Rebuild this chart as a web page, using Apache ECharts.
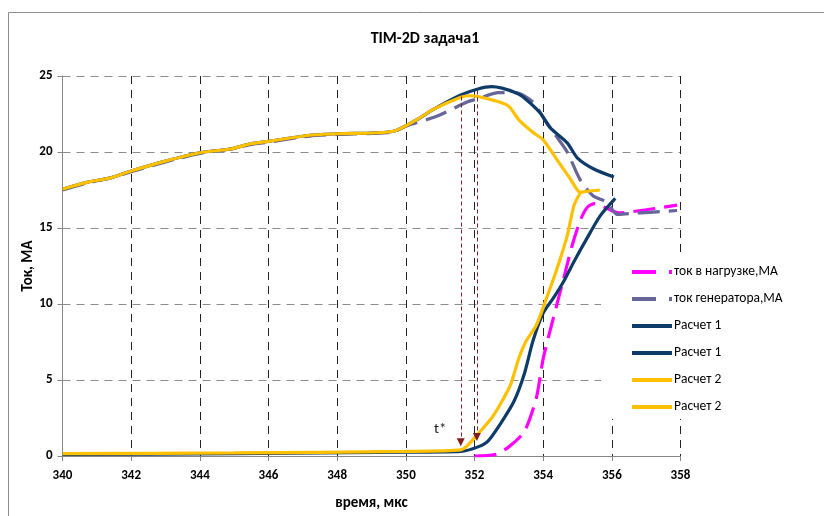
<!DOCTYPE html>
<html>
<head>
<meta charset="utf-8">
<script src="https://cdn.jsdelivr.net/npm/echarts@6/dist/echarts.min.js"></script>
<style>
  html, body { margin: 0; padding: 0; background: #fff; }
  #chart { width: 824px; height: 516px; }
</style>
</head>
<body>
<div id="chart"></div>
<script>
// Labels
const titleText = 'TIM-2D задача1';
const xAxisName = 'время, мкс';
const yAxisName = 'Ток, МА';
const annotText = 't*';
const seriesKeys = ['load', 'gen', 'r1a', 'r1b', 'r2a', 'r2b'];
const seriesLabels = ['ток в нагрузке,МА', 'ток генератора,МА', 'Расчет 1', 'Расчет 1', 'Расчет 2', 'Расчет 2'];

// Axis ranges
const xMin = 340, xMax = 358, xStep = 2;
const yMin = 0, yMax = 25, yStep = 5;

// Load current (MA)
const loadX = [352.0, 352.6, 353.0, 353.45, 353.8, 354.0, 354.3, 354.6, 354.85, 355.1, 355.3, 355.5, 355.85, 356.2, 357.0, 357.9];
const loadY = [0.0, 0.1, 0.6, 1.6, 3.8, 6.4, 9.1, 11.7, 13.9, 15.6, 16.4, 16.6, 16.3, 16.0, 16.2, 16.5];

// Generator current (MA)
const genX = [340, 340.7, 341.4, 342, 343, 344, 344.9, 345.5, 346, 347.2, 348, 349.6, 350.0, 350.9, 351.8, 352.1, 352.7, 353.2, 353.7, 354.0, 354.3, 354.7, 355.07, 355.46, 355.86, 356.15, 356.5, 357.2, 357.9];
const genY = [17.5, 17.95, 18.3, 18.7, 19.35, 19.9, 20.2, 20.5, 20.65, 21.05, 21.15, 21.3, 21.7, 22.35, 23.3, 23.5, 23.9, 23.9, 23.3, 22.3, 21.3, 20.0, 18.2, 17.1, 16.7, 15.9, 15.95, 16.05, 16.15];

// Calculation 1, upper branch
const r1aX = [340, 340.7, 341.4, 342, 343, 344, 344.9, 345.5, 346, 347.2, 348, 349.6, 350.3, 350.8, 351.6, 352.1, 352.5, 352.8, 353.2, 353.4, 353.9, 354.2, 354.7, 355.0, 355.46, 356.06];
const r1aY = [17.55, 18.0, 18.3, 18.75, 19.4, 19.95, 20.2, 20.55, 20.7, 21.1, 21.2, 21.35, 22.1, 22.8, 23.75, 24.15, 24.3, 24.2, 23.9, 23.65, 22.6, 21.6, 20.6, 19.6, 18.9, 18.35];

// Calculation 1, lower branch
const r1bX = [340, 345, 350, 351.6, 352.1, 352.4, 352.75, 353.15, 353.45, 353.7, 354.0, 354.3, 354.6, 354.9, 355.27, 355.66, 356.1];
const r1bY = [0.1, 0.15, 0.25, 0.3, 0.6, 1.0, 2.1, 3.6, 5.4, 7.55, 9.4, 10.4, 11.5, 12.8, 14.3, 15.8, 16.95];

// Calculation 2, upper branch
const r2aX = [340, 340.7, 341.4, 342, 343, 344, 344.9, 345.5, 346, 347.2, 348, 349.6, 350.3, 350.8, 351.6, 351.85, 352.1, 352.7, 353.0, 353.3, 353.7, 354.0, 354.4, 354.8, 355.08, 355.3, 355.65];
const r2aY = [17.55, 18.0, 18.3, 18.75, 19.4, 19.95, 20.2, 20.55, 20.7, 21.1, 21.2, 21.35, 22.1, 22.8, 23.6, 23.7, 23.65, 23.3, 23.0, 22.1, 21.3, 20.8, 19.5, 18.2, 17.35, 17.42, 17.5];

// Calculation 2, lower branch
const r2bX = [340, 345, 350, 351.6, 351.8, 352.1, 352.5, 352.75, 353.05, 353.3, 353.5, 353.8, 354.1, 354.4, 354.7, 354.9, 355.08];
const r2bY = [0.15, 0.2, 0.3, 0.4, 0.7, 1.45, 2.5, 3.4, 4.7, 6.5, 7.55, 8.6, 10.4, 12.3, 14.5, 16.5, 17.3];

// t* markers: [x, top, tip]
const markerA = [351.6, 23.65, 0.9];
const markerB = [352.07, 24.05, 1.25];
const annotPos = [351.0, 1.75];

const FONT = 'Carlito, Lato, "Noto Sans", sans-serif';

function pairs(xs, ys) { return xs.map((x, i) => [x, ys[i]]); }

const seriesStyles = {
  load: { color: '#FF00FF', type: [22, 9] },
  gen:  { color: '#666699', type: [22, 9] },
  r1a:  { color: '#0E3B68', type: 'solid' },
  r1b:  { color: '#0E3B68', type: 'solid' },
  r2a:  { color: '#FFC000', type: 'solid' },
  r2b:  { color: '#FFC000', type: 'solid' }
};
const seriesData = {
  load: pairs(loadX, loadY),
  gen: pairs(genX, genY),
  r1a: pairs(r1aX, r1aY),
  r1b: pairs(r1bX, r1bY),
  r2a: pairs(r2aX, r2aY),
  r2b: pairs(r2bX, r2bY)
};

const lineSeries = seriesKeys.map(k => ({
  name: k,
  type: 'line',
  data: seriesData[k],
  symbol: 'none',
  smooth: 0.25,
  color: seriesStyles[k].color,
  lineStyle: { width: 3.2, color: seriesStyles[k].color, type: seriesStyles[k].type },
  emphasis: { disabled: true },
  z: 2
}));

const arrowColor = '#7F1F1F';
function arrow(m) {
  return [
    { coord: [m[0], m[1]], symbol: 'none' },
    { coord: [m[0], m[2]], symbol: 'triangle', symbolSize: [8, 8] }
  ];
}

const annotSeries = {
  name: 'annot',
  type: 'line',
  data: [],
  symbol: 'none',
  silent: true,
  markLine: {
    silent: true,
    animation: false,
    lineStyle: { color: arrowColor, width: 1, type: [4, 3] },
    itemStyle: { color: arrowColor },
    label: { show: false },
    emphasis: { disabled: true },
    data: [arrow(markerA), arrow(markerB)]
  },
  markPoint: {
    silent: true,
    animation: false,
    data: [{
      coord: annotPos,
      symbol: 'circle',
      symbolSize: 2,
      itemStyle: { color: 'transparent' },
      label: { show: true, position: 'inside', formatter: annotText, color: '#222', fontSize: 15, fontFamily: FONT }
    }]
  },
  z: 3
};

const labelMap = {};
seriesKeys.forEach((k, i) => { labelMap[k] = seriesLabels[i]; });

const chart = echarts.init(document.getElementById('chart'), null, { renderer: 'canvas' });
chart.setOption({
  animation: false,
  backgroundColor: '#fff',
  textStyle: { fontFamily: FONT },
  graphic: [{
    type: 'rect',
    silent: true,
    shape: { x: 8.5, y: 12.5, width: 900, height: 600 },
    style: { fill: 'none', stroke: '#8c8c8c', lineWidth: 1 }
  }],
  title: {
    text: titleText,
    left: 420,
    top: 26,
    textAlign: 'center',
    textStyle: { fontFamily: FONT, fontSize: 16, fontWeight: 'bold', color: '#000' }
  },
  grid: { left: 62.5, right: 143.5, top: 76, bottom: 57, containLabel: false },
  legend: {
    orient: 'vertical',
    left: 601,
    top: 254,
    padding: [11, 40, 5, 29],
    backgroundColor: '#fff',
    itemWidth: 40,
    itemHeight: 14,
    itemGap: 13,
    selectedMode: false,
    formatter: name => labelMap[name],
    itemStyle: { opacity: 0 },
    textStyle: { fontFamily: FONT, fontSize: 13.5, color: '#000', padding: [0, 0, 0, -3] },
    data: seriesKeys.map(k => ({
      name: k,
      itemStyle: { opacity: 0 },
      lineStyle: { type: seriesStyles[k].type === 'solid' ? 'solid' : [24, 13], width: 4 }
    })),
    z: 10
  },
  xAxis: {
    type: 'value',
    min: xMin, max: xMax, interval: xStep,
    name: xAxisName,
    nameLocation: 'middle',
    nameGap: 40,
    nameMoveOverlap: false,
    nameTextStyle: { fontFamily: FONT, fontSize: 15, fontWeight: 'bold', color: '#000' },
    axisLine: { show: true, onZero: false, lineStyle: { color: '#868686', width: 1 } },
    axisTick: { show: true, length: 5, lineStyle: { color: '#868686' } },
    axisLabel: { margin: 13, fontFamily: FONT, fontSize: 13, fontWeight: 'bold', color: '#000' },
    splitLine: { show: true, lineStyle: { color: '#222', width: 1, type: [8, 6] } }
  },
  yAxis: {
    type: 'value',
    min: yMin, max: yMax, interval: yStep,
    name: yAxisName,
    nameLocation: 'middle',
    nameGap: 27,
    nameMoveOverlap: false,
    nameTextStyle: { fontFamily: FONT, fontSize: 15, fontWeight: 'bold', color: '#000' },
    axisLine: { show: true, lineStyle: { color: '#868686', width: 1 } },
    axisTick: { show: true, length: 5, lineStyle: { color: '#868686' } },
    axisLabel: { margin: 10, fontFamily: FONT, fontSize: 13, fontWeight: 'bold', color: '#000' },
    splitLine: { show: true, lineStyle: { color: '#8c8c8c', width: 1, type: [8, 6] } }
  },
  series: lineSeries.concat([annotSeries])
});
</script>
</body>
</html>
